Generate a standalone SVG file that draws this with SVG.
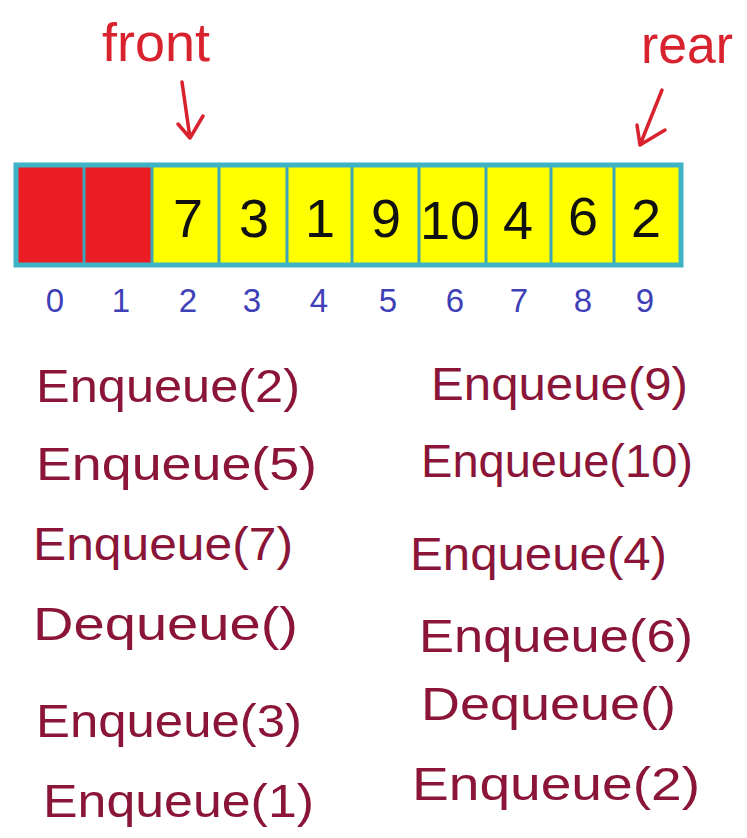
<svg xmlns="http://www.w3.org/2000/svg" width="747" height="838" viewBox="0 0 747 838">
<style>
  .ptr{font-family:"Liberation Sans",Arial,sans-serif;font-size:54px;fill:#d8232f}
  .cell-red{fill:#ec1c24}
  .cell-yel{fill:#ffff00}
  .div{stroke:#3aa6b8;stroke-width:3}
  .val{font-family:"Liberation Sans",Arial,sans-serif;font-size:54px;fill:#111;text-anchor:middle}
  .idx{font-family:"Liberation Sans",Arial,sans-serif;font-size:33px;fill:#3f3fb8;text-anchor:middle}
  .op{font-family:"Liberation Sans",Arial,sans-serif;font-size:46px;fill:#8a1538}
  .arrow{fill:none;stroke:#d8232f;stroke-width:3.5;stroke-linecap:round;stroke-linejoin:round}
</style>
<rect width="747" height="838" fill="#ffffff"/>

<g id="array">
  <rect class="cell-red" x="16" y="165" width="136" height="100"/>
  <rect class="cell-yel" x="152" y="165" width="529" height="100"/>
  <g class="div">
    <line x1="84" y1="165" x2="84" y2="265"/>
    <line x1="152" y1="165" x2="152" y2="265"/>
    <line x1="219" y1="165" x2="219" y2="265"/>
    <line x1="287" y1="165" x2="287" y2="265"/>
    <line x1="352" y1="165" x2="352" y2="265"/>
    <line x1="419" y1="165" x2="419" y2="265"/>
    <line x1="486" y1="165" x2="486" y2="265"/>
    <line x1="551" y1="165" x2="551" y2="265"/>
    <line x1="614" y1="165" x2="614" y2="265"/>
  </g>
  <rect x="16" y="165" width="665" height="100" fill="none" stroke="#3fb3c6" stroke-width="5"/>
  <text class="val" x="188" y="237">7</text>
  <text class="val" x="254" y="237">3</text>
  <text class="val" x="320" y="237">1</text>
  <text class="val" x="386" y="237">9</text>
  <text class="val" x="450" y="239">10</text>
  <text class="val" x="518" y="239">4</text>
  <text class="val" x="583" y="235">6</text>
  <text class="val" x="646" y="237">2</text>
</g>

<g id="indices">
  <text class="idx" x="55" y="312">0</text>
  <text class="idx" x="121" y="312">1</text>
  <text class="idx" x="188" y="312">2</text>
  <text class="idx" x="252" y="312">3</text>
  <text class="idx" x="319" y="312">4</text>
  <text class="idx" x="388" y="312">5</text>
  <text class="idx" x="455" y="312">6</text>
  <text class="idx" x="519" y="312">7</text>
  <text class="idx" x="583" y="312">8</text>
  <text class="idx" x="645" y="312">9</text>
</g>

<g id="front-label"><text class="ptr" x="102" y="61" textLength="108" lengthAdjust="spacingAndGlyphs">front</text></g>
<g id="rear-label"><text class="ptr" x="641" y="63" textLength="92" lengthAdjust="spacingAndGlyphs">rear</text></g>

<g id="connectors">
  <path class="arrow" d="M182 82 L190 138 M178 124 L190 138 L203 116"/>
  <path class="arrow" d="M662 90 L640 145 M637 125 L640 145 L665 130"/>
</g>

<g id="ops-left">
  <text class="op" x="36" y="402" textLength="264" lengthAdjust="spacingAndGlyphs">Enqueue(2)</text>
  <text class="op" x="36" y="480" textLength="281" lengthAdjust="spacingAndGlyphs">Enqueue(5)</text>
  <text class="op" x="33" y="560" textLength="260" lengthAdjust="spacingAndGlyphs">Enqueue(7)</text>
  <text class="op" x="33" y="640" textLength="265" lengthAdjust="spacingAndGlyphs">Dequeue()</text>
  <text class="op" x="36" y="737" textLength="266" lengthAdjust="spacingAndGlyphs">Enqueue(3)</text>
  <text class="op" x="43" y="817" textLength="271" lengthAdjust="spacingAndGlyphs">Enqueue(1)</text>
</g>

<g id="ops-right">
  <text class="op" x="431" y="400" textLength="257" lengthAdjust="spacingAndGlyphs">Enqueue(9)</text>
  <text class="op" x="421" y="477" textLength="272" lengthAdjust="spacingAndGlyphs">Enqueue(10)</text>
  <text class="op" x="410" y="570" textLength="257" lengthAdjust="spacingAndGlyphs">Enqueue(4)</text>
  <text class="op" x="419" y="652" textLength="274" lengthAdjust="spacingAndGlyphs">Enqueue(6)</text>
  <text class="op" x="421" y="720" textLength="255" lengthAdjust="spacingAndGlyphs">Dequeue()</text>
  <text class="op" x="412" y="800" textLength="288" lengthAdjust="spacingAndGlyphs">Enqueue(2)</text>
</g>
</svg>
